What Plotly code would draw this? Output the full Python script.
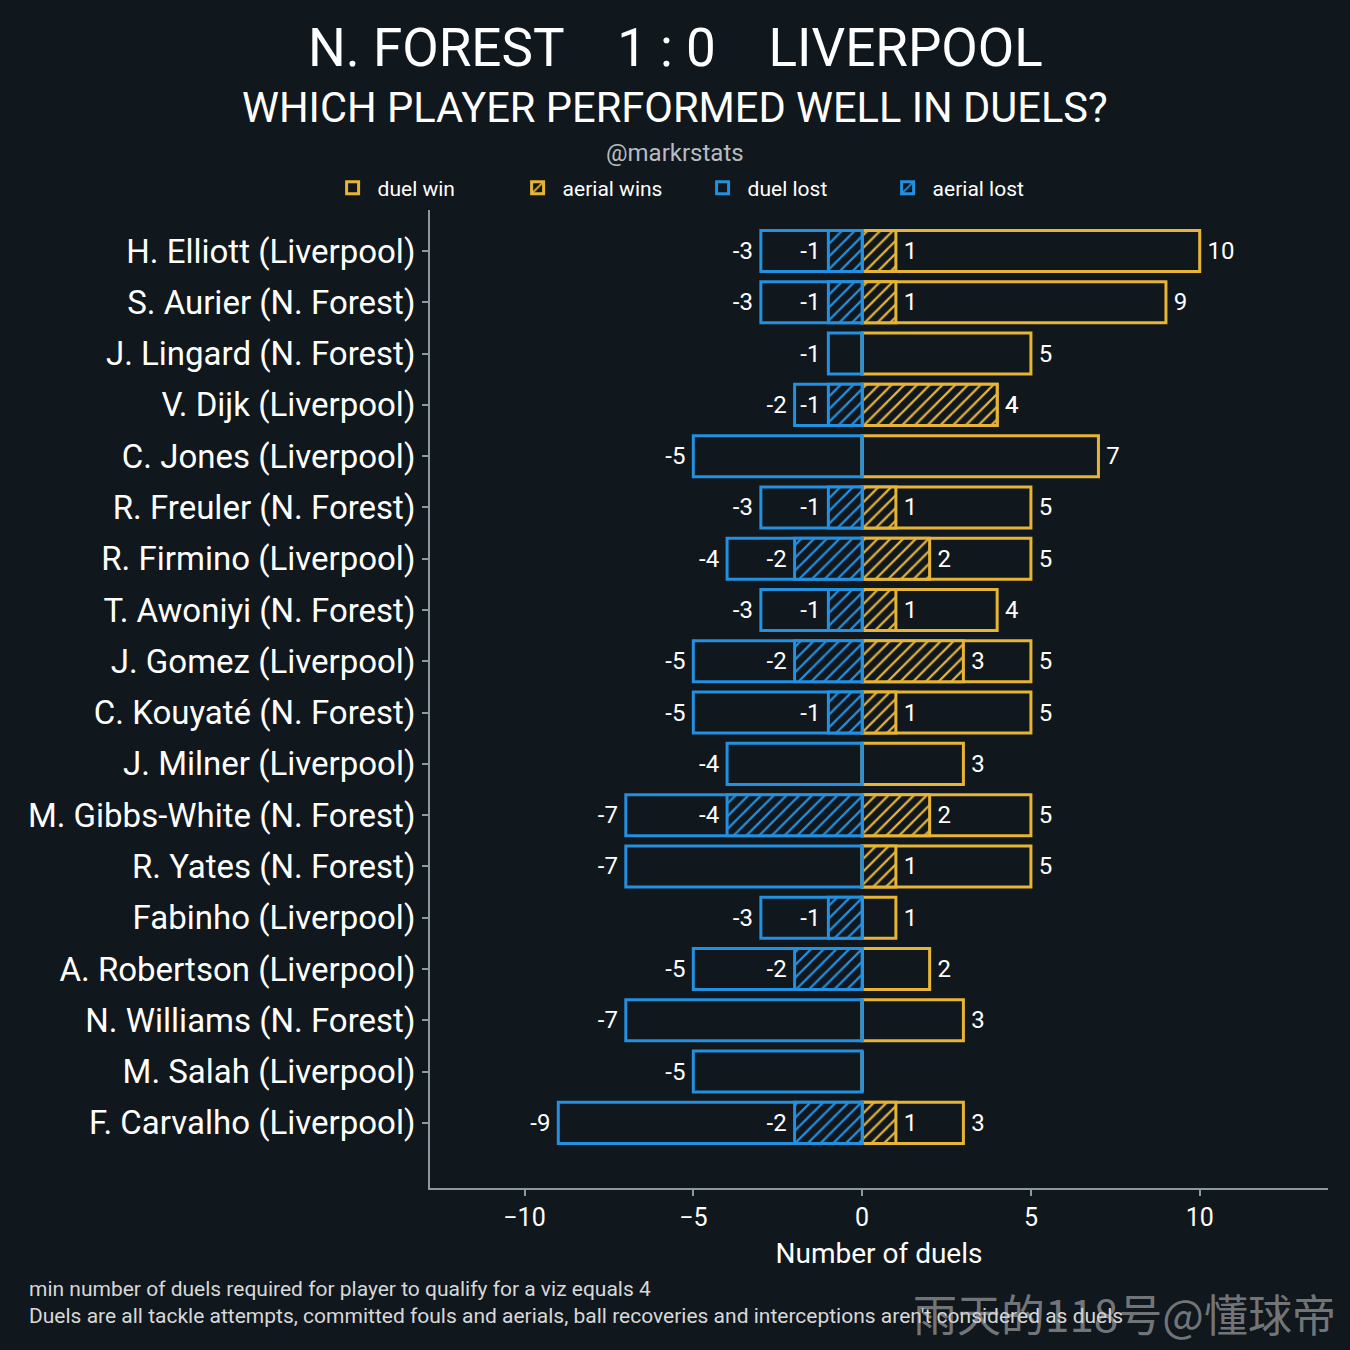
import plotly.graph_objects as go

players = [
    "H. Elliott (Liverpool)", "S. Aurier (N. Forest)", "J. Lingard (N. Forest)",
    "V. Dijk (Liverpool)", "C. Jones (Liverpool)", "R. Freuler (N. Forest)",
    "R. Firmino (Liverpool)", "T. Awoniyi (N. Forest)", "J. Gomez (Liverpool)",
    "C. Kouyaté (N. Forest)", "J. Milner (Liverpool)", "M. Gibbs-White (N. Forest)",
    "R. Yates (N. Forest)", "Fabinho (Liverpool)", "A. Robertson (Liverpool)",
    "N. Williams (N. Forest)", "M. Salah (Liverpool)", "F. Carvalho (Liverpool)",
]
duel_win = [10, 9, 5, 4, 7, 5, 5, 4, 5, 5, 3, 5, 5, 1, 2, 3, 0, 3]
aerial_win = [1, 1, 0, 4, 0, 1, 2, 1, 3, 1, 0, 2, 1, 0, 0, 0, 0, 1]
duel_lost = [-3, -3, -1, -2, -5, -3, -4, -3, -5, -5, -4, -7, -7, -3, -5, -7, -5, -9]
aerial_lost = [-1, -1, 0, -1, 0, -1, -2, -1, -2, -1, 0, -4, 0, -1, -2, 0, 0, -2]

BG = "#10171d"
YELLOW = "#e6b535"
BLUE = "#2390e0"
GREY = "#8c9a9e"
FONT = "Roboto"


def labels(vals):
    # thin space keeps the number a bit off the bar end
    out = []
    for v in vals:
        if v == 0:
            out.append("")
        elif v > 0:
            out.append("\u2009" + str(v))
        else:
            out.append(str(v) + "\u2009")
    return out


fig = go.Figure()


def add(name, vals, color, hatch):
    marker = dict(color="rgba(0,0,0,0)", line=dict(color=color, width=3))
    if hatch:
        marker["pattern"] = dict(shape="/", fgcolor=color, bgcolor=BG,
                                 size=9, solidity=0.25, fillmode="replace")
    fig.add_trace(go.Bar(
        y=players, x=vals, orientation="h", name=name, marker=marker,
        text=labels(vals), textposition="outside", cliponaxis=False,
        constraintext="none",
        textfont=dict(family=FONT, size=24, color="white"),
    ))


add("duel win", duel_win, YELLOW, False)
add("aerial wins", aerial_win, YELLOW, True)
add("duel lost", duel_lost, BLUE, False)
add("aerial lost", aerial_lost, BLUE, True)

fig.update_layout(
    width=1350, height=1350,
    paper_bgcolor=BG, plot_bgcolor=BG,
    barmode="overlay", bargap=0.2,
    margin=dict(l=430, r=22, t=210, b=162),
    font=dict(family=FONT, color="white"),
    legend=dict(orientation="h", x=0.298, xanchor="center", y=1.0225,
                yanchor="middle", font=dict(size=21, color="white"),
                bgcolor="rgba(0,0,0,0)", traceorder="normal",
                entrywidth=130, itemwidth=40),
)
fig.update_xaxes(
    range=[-12.8, 13.8], tickvals=[-10, -5, 0, 5, 10],
    showgrid=False, zeroline=False, showline=True, linecolor=GREY, linewidth=2,
    ticks="outside", ticklen=6, tickcolor=GREY, tickwidth=2,
    tickfont=dict(size=25, color="white"),
    title=dict(text="Number of duels", font=dict(size=28, color="white"), standoff=12),
)
fig.update_yaxes(
    range=[18.27, -0.8], showgrid=False, zeroline=False,
    showline=True, linecolor=GREY, linewidth=2,
    ticks="outside", ticklen=6, tickcolor=GREY, tickwidth=2,
    tickfont=dict(size=33, color="white"),
)


def py(pixel):
    return (1188 - pixel) / 978


def px(pixel):
    return (pixel - 430) / 898


notes = [
    ("N. FOREST\u00a0\u00a0\u00a0\u00a01\u00a0:\u00a00\u00a0\u00a0\u00a0\u00a0LIVERPOOL", 675, 48, 53, "white", "center"),
    ("WHICH PLAYER PERFORMED WELL IN DUELS?", 675, 107, 41.6, "white", "center"),
    ("@markrstats", 675, 153, 24, "#b8bcc0", "center"),
    ("min number of duels required for player to qualify for a viz equals 4", 27, 1289, 21, "#d8d8d8", "left"),
    ("Duels are all tackle attempts, committed fouls and aerials, ball recoveries and interceptions aren't considered as duels",
     27, 1316, 21, "#d8d8d8", "left"),
]
for text, x, y, size, color, anchor in notes:
    fig.add_annotation(text=text, x=px(x), y=py(y), xref="paper", yref="paper",
                       xanchor=anchor, yanchor="middle", showarrow=False,
                       font=dict(family=FONT, size=size, color=color))

fig.add_annotation(text="雨天的118号@懂球帝", x=px(1338), y=py(1313), xref="paper",
                   yref="paper", xanchor="right", yanchor="middle", showarrow=False,
                   font=dict(family="Noto Sans CJK SC", size=44,
                             color="rgba(200,200,200,0.55)"))

fig.write_html("out.html", config={"displayModeBar": False},
               post_script="document.body.style.margin='0';")
